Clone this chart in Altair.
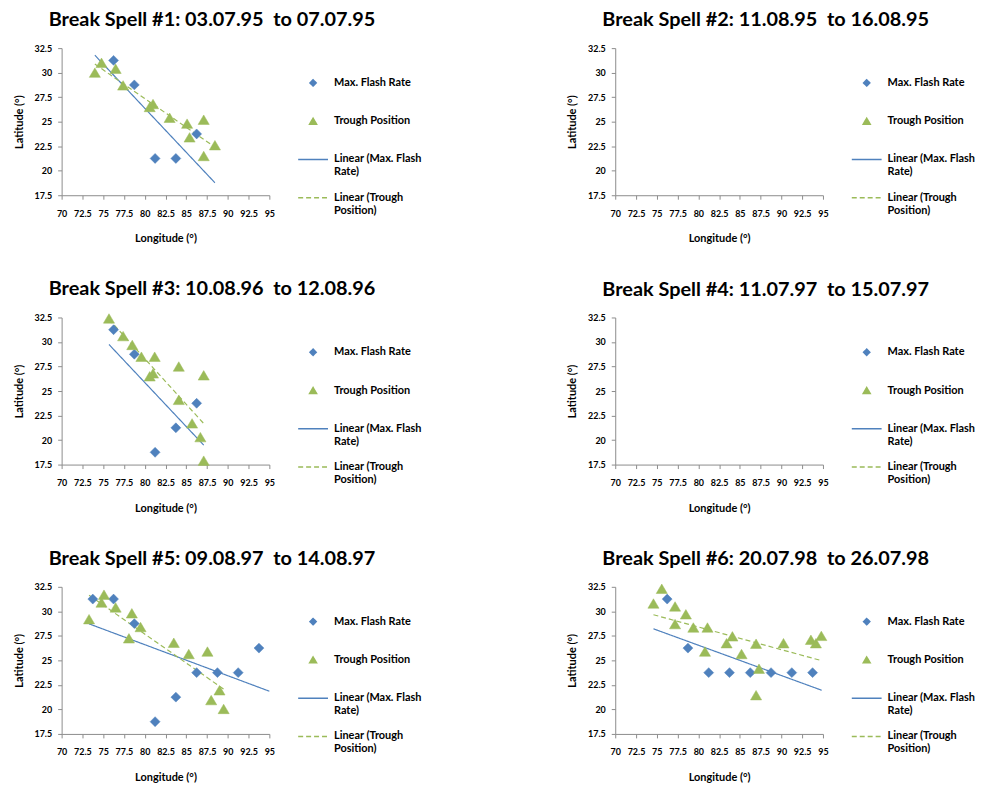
import altair as alt
import pandas as pd

SERIES = ["Max. Flash Rate", "Trough Position",
          "Linear (Max. Flash Rate)", "Linear (Trough Position)"]
TITLES = [
    "Break Spell #1: 03.07.95\u00a0 to 07.07.95",
    "Break Spell #2: 11.08.95\u00a0 to 16.08.95",
    "Break Spell #3: 10.08.96\u00a0 to 12.08.96",
    "Break Spell #4: 11.07.97\u00a0 to 15.07.97",
    "Break Spell #5: 09.08.97\u00a0 to 14.08.97",
    "Break Spell #6: 20.07.98\u00a0 to 26.07.98",
]
X_TICKS = [70, 72.5, 75, 77.5, 80, 82.5, 85, 87.5, 90, 92.5, 95]
Y_TICKS = [17.5, 20, 22.5, 25, 27.5, 30, 32.5]

# Panel 1
P1_FLASH_LON = [76.25, 78.75, 86.25, 81.25, 83.75]
P1_FLASH_LAT = [31.25, 28.75, 23.75, 21.25, 21.25]
P1_TROUGH_LON = [74.0, 74.8, 76.5, 77.4, 80.6, 81.0, 83.0, 85.1, 85.4, 87.1, 87.1, 88.45]
P1_TROUGH_LAT = [30.0, 31.0, 30.4, 28.7, 26.5, 26.8, 25.4, 24.8, 23.4, 25.2, 21.5, 22.6]
# Panel 3
P3_FLASH_LON = [76.25, 78.75, 86.25, 83.75, 81.25]
P3_FLASH_LAT = [31.25, 28.75, 23.75, 21.25, 18.75]
P3_TROUGH_LON = [75.7, 77.4, 78.5, 79.6, 81.2, 80.6, 81.0, 84.1, 84.1, 85.7, 86.7, 87.1, 87.1]
P3_TROUGH_LAT = [32.4, 30.6, 29.7, 28.5, 28.5, 26.5, 26.8, 27.5, 24.1, 21.7, 20.3, 26.6, 17.9]
# Panel 5
P5_FLASH_LON = [73.75, 76.25, 78.75, 86.25, 88.75, 91.25, 93.75, 83.75, 81.25]
P5_FLASH_LAT = [31.25, 31.25, 28.75, 23.75, 23.75, 23.75, 26.25, 21.25, 18.75]
P5_TROUGH_LON = [73.3, 74.8, 75.1, 76.5, 78.1, 78.45, 79.5, 83.5, 85.3, 87.55, 88.0, 89.0, 89.5]
P5_TROUGH_LAT = [29.2, 30.9, 31.7, 30.4, 27.25, 29.8, 28.4, 26.8, 25.65, 25.9, 20.95, 21.95, 20.05]
# Panel 6
P6_FLASH_LON = [76.25, 78.75, 81.25, 83.75, 86.25, 88.75, 91.25, 93.75]
P6_FLASH_LAT = [31.25, 26.25, 23.75, 23.75, 23.75, 23.75, 23.75, 23.75]
P6_TROUGH_LON = [74.6, 75.6, 77.2, 77.2, 78.5, 79.4, 81.1, 80.8, 83.4, 84.1, 85.2,
                 86.95, 87.3, 86.95, 90.25, 93.55, 94.15, 94.8]
P6_TROUGH_LAT = [30.8, 32.3, 30.5, 28.7, 29.7, 28.35, 28.35, 25.9, 26.75, 27.45, 25.65,
                 26.7, 24.15, 21.45, 26.75, 27.1, 26.75, 27.5]

FLASH = {1: (P1_FLASH_LON, P1_FLASH_LAT), 3: (P3_FLASH_LON, P3_FLASH_LAT),
         5: (P5_FLASH_LON, P5_FLASH_LAT), 6: (P6_FLASH_LON, P6_FLASH_LAT)}
TROUGH = {1: (P1_TROUGH_LON, P1_TROUGH_LAT), 3: (P3_TROUGH_LON, P3_TROUGH_LAT),
          5: (P5_TROUGH_LON, P5_TROUGH_LAT), 6: (P6_TROUGH_LON, P6_TROUGH_LAT)}
# x-range over which each trendline is drawn
FLASH_TREND_EXTENT = {1: [74.0, 88.45], 2: [70, 95], 3: [75.7, 87.1], 4: [70, 95],
                      5: [73.3, 95.0], 6: [74.6, 94.85]}
TROUGH_TREND_EXTENT = {1: [74.0, 88.45], 2: [70, 95], 3: [75.7, 87.1], 4: [70, 95],
                       5: [73.3, 89.5], 6: [74.6, 94.85]}

rows = []
for k, (lons, lats) in FLASH.items():
    for lo, la in zip(lons, lats):
        rows.append({"panel": k, "series": SERIES[0], "lon": lo, "lat": la})
for k, (lons, lats) in TROUGH.items():
    for lo, la in zip(lons, lats):
        rows.append({"panel": k, "series": SERIES[1], "lon": lo, "lat": la})
df = pd.DataFrame(rows)

BLUE = "#4f81bd"
GREEN = "#9bbb59"
DIAMOND = "M0,-0.21L0.21,0L0,0.21L-0.21,0Z"
TRIANGLE = "M0,-0.2L0.235,0.2L-0.235,0.2Z"

stroke_scale = alt.Scale(domain=SERIES, range=[BLUE, GREEN, BLUE, GREEN])
fill_scale = alt.Scale(domain=SERIES, range=[BLUE, GREEN, "transparent", "transparent"])
shape_scale = alt.Scale(domain=SERIES, range=[DIAMOND, TRIANGLE, "stroke", "stroke"])
dash_scale = alt.Scale(domain=SERIES, range=[[1, 0], [1, 0], [1, 0], [5, 3]])

LABEL_EXPR = ("datum.label == 'Linear (Max. Flash Rate)' ? ['Linear (Max. Flash', 'Rate)'] : "
              "datum.label == 'Linear (Trough Position)' ? ['Linear (Trough', 'Position)'] : datum.label")

legend = alt.Legend(orient="none", legendX=237, legendY=19, title=None,
                    symbolSize=900, symbolStrokeWidth=1.5,
                    labelFont="Lato", labelFontSize=11, labelFontWeight="bold",
                    labelColor="black", labelOffset=5, labelLimit=300,
                    gridAlign="all", rowPadding=4.5, padding=0, labelExpr=LABEL_EXPR)

x_enc = alt.X("lon:Q", scale=alt.Scale(domain=[70, 95], nice=False, zero=False),
              axis=alt.Axis(values=X_TICKS, format=".1~f", title="Longitude (°)",
                            labelOverlap=False, labelFlush=False,
                            labelPadding=10, titlePadding=15))
y_enc = alt.Y("lat:Q", scale=alt.Scale(domain=[17.5, 32.5], nice=False, zero=False),
              axis=alt.Axis(values=Y_TICKS, format=".1~f", title="Latitude (°)",
                            labelOverlap=False, labelFlush=False,
                            labelPadding=6, titlePadding=10))


def trend(base, k, src, name, extent):
    return base.transform_filter(alt.datum.series == src).transform_regression(
        "lon", "lat", extent=extent
    ).transform_calculate(series=f"'{name}'").mark_line(strokeWidth=1.2).encode(
        x=x_enc, y=y_enc,
        stroke=alt.Stroke("series:N", scale=stroke_scale, legend=legend),
        strokeDash=alt.StrokeDash("series:N", scale=dash_scale, legend=legend),
    )


def make_panel(k):
    base = alt.Chart().transform_filter(alt.datum.panel == k)
    pts = base.mark_point(opacity=1, size=2266, strokeWidth=0.5).encode(
        x=x_enc, y=y_enc,
        fill=alt.Fill("series:N", scale=fill_scale, legend=legend),
        stroke=alt.Stroke("series:N", scale=stroke_scale, legend=legend),
        shape=alt.Shape("series:N", scale=shape_scale, legend=legend),
    )
    line_flash = trend(base, k, SERIES[0], SERIES[2], FLASH_TREND_EXTENT[k])
    line_trough = trend(base, k, SERIES[1], SERIES[3], TROUGH_TREND_EXTENT[k])
    return alt.layer(line_flash, line_trough, pts).properties(
        width=209, height=148,
        title=alt.TitleParams(TITLES[k - 1], anchor="start", frame="group", dx=-13,
                              offset=-2, baseline="alphabetic", font="Lato",
                              fontSize=20, fontWeight="bold", color="black"),
    )


chart = alt.concat(
    *[make_panel(k) for k in range(1, 7)],
    columns=2, spacing={"row": 123, "column": 348}, bounds="flush", data=df,
).resolve_scale(
    fill="independent", stroke="independent", shape="independent", strokeDash="independent"
).resolve_legend(
    fill="independent", stroke="independent", shape="independent", strokeDash="independent"
).properties(
    padding={"left": 13, "top": 8, "right": 5, "bottom": 5},
    background="white",
).configure_view(strokeWidth=0).configure_axis(
    domainColor="#8c8c8c", tickColor="#8c8c8c", tickSize=4, grid=False,
    labelFont="Lato", labelFontWeight="bold", labelFontSize=9, labelColor="black",
    titleFont="Lato", titleFontWeight="bold", titleFontSize=11, titleColor="black",
)

chart.save("out.html", embed_options={"renderer": "svg", "actions": False})
